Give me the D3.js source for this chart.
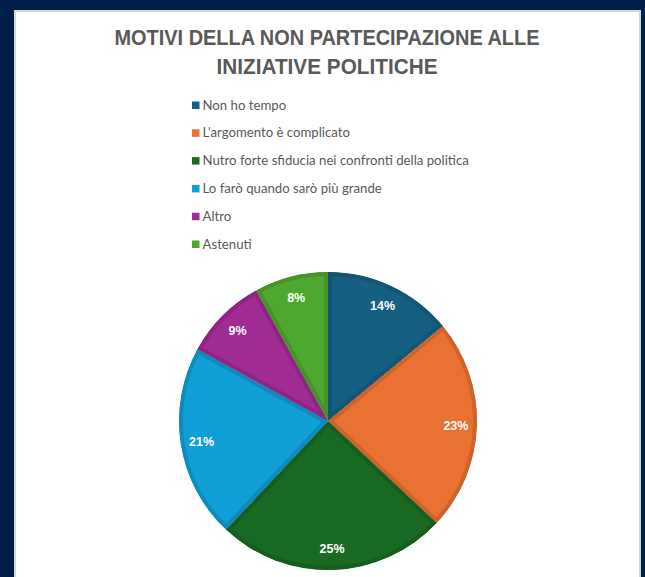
<!DOCTYPE html>
<html>
<head>
<meta charset="utf-8">
<script src="https://cdn.jsdelivr.net/npm/d3@7"></script>
<style>
  html, body { margin: 0; padding: 0; background: #00204a; }
  svg { display: block; }
</style>
</head>
<body>
<svg id="chart" width="645" height="577"></svg>
<script>
// Survey answers: why respondents do not take part in political initiatives
const titleLines = ["MOTIVI DELLA NON PARTECIPAZIONE ALLE", "INIZIATIVE POLITICHE"];
const titleWidths = [425, 221];
const categories = [
  "Non ho tempo",
  "L'argomento è complicato",
  "Nutro forte sfiducia nei confronti della politica",
  "Lo farò quando sarò più grande",
  "Altro",
  "Astenuti"
];
const percentages = [14, 23, 25, 21, 9, 8];
const sliceColors = ["#156082", "#e97132", "#196b24", "#0f9ed5", "#a02b93", "#4ea72e"];

const svg = d3.select("#chart");
const W = 645, H = 577;

// navy frame and white chart area
svg.append("rect").attr("width", W).attr("height", H).attr("fill", "#00204a");
svg.append("rect")
  .attr("x", 15).attr("y", 11).attr("width", 625).attr("height", H)
  .attr("fill", "#ffffff").attr("stroke", "#d6d6d6").attr("stroke-width", 2);

// title, set in a condensed bold face
svg.append("g").selectAll("text")
  .data(titleLines)
  .join("text")
  .attr("x", 327)
  .attr("y", (d, i) => 45 + i * 28.5)
  .attr("text-anchor", "middle")
  .attr("font-family", "'Liberation Sans', Arial, sans-serif")
  .attr("font-weight", "bold")
  .attr("font-size", 21.5)
  .attr("textLength", (d, i) => titleWidths[i])
  .attr("lengthAdjust", "spacingAndGlyphs")
  .attr("fill", "#595959")
  .text(d => d);

// legend
const legendY = d3.scalePoint().domain(categories).range([105, 244]);
const colorOf = d3.scaleOrdinal().domain(categories).range(sliceColors);
const legend = svg.append("g").selectAll("g")
  .data(categories)
  .join("g")
  .attr("transform", d => `translate(192,${legendY(d)})`);
legend.append("rect")
  .attr("x", 0).attr("y", -3.5).attr("width", 7.5).attr("height", 7.5)
  .attr("fill", d => colorOf(d));
legend.append("text")
  .attr("x", 10.5).attr("y", 4.5)
  .attr("font-family", "Lato, 'Noto Sans', sans-serif")
  .attr("font-size", 13.2)
  .attr("fill", "#595959")
  .text(d => d);

// pie
const cx = 328, cy = 421, R = 149;
const pie = d3.pie().sort(null).value(d => d.value);
const arcs = pie(categories.map((c, i) => ({ name: c, value: percentages[i] })));
const arc = d3.arc().innerRadius(0).outerRadius(R);
const labelArc = d3.arc().innerRadius(128).outerRadius(128);

const g = svg.append("g").attr("transform", `translate(${cx},${cy})`);
const defs = svg.append("defs");
arcs.forEach((a, i) => {
  defs.append("clipPath").attr("id", "slice-clip-" + i)
    .append("path").attr("d", arc(a));
});

g.selectAll("path.slice")
  .data(arcs)
  .join("path")
  .attr("class", "slice")
  .attr("d", arc)
  .attr("fill", d => colorOf(d.data.name))
  .attr("stroke", d => d3.color(colorOf(d.data.name)).darker(0.35))
  .attr("stroke-width", 8)
  .attr("stroke-linejoin", "round")
  .attr("clip-path", (d, i) => `url(#slice-clip-${i})`);

g.selectAll("text.pct")
  .data(arcs)
  .join("text")
  .attr("class", "pct")
  .attr("transform", d => `translate(${labelArc.centroid(d)})`)
  .attr("text-anchor", "middle")
  .attr("dy", "0.36em")
  .attr("font-family", "'Liberation Sans', Arial, sans-serif")
  .attr("font-weight", "bold")
  .attr("font-size", 12.5)
  .attr("fill", "#ffffff")
  .text(d => d.data.value + "%");
</script>
</body>
</html>
